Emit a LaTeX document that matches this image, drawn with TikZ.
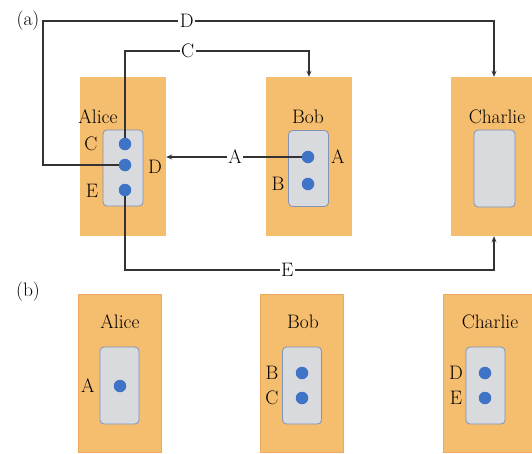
\documentclass[tikz,border=0pt]{standalone}
\usetikzlibrary{arrows.meta}
\definecolor{boxorange}{HTML}{F5BD6E}
\definecolor{boxedge}{HTML}{EFA85E}
\definecolor{innergray}{HTML}{D8DADE}
\definecolor{inneredge}{HTML}{7F93B8}
\definecolor{dotblue}{HTML}{3F73C6}
\definecolor{linegray}{HTML}{333333}
\tikzset{
  party/.style={rectangle, fill=boxorange, inner sep=0pt, minimum width=86pt, minimum height=159pt},
  partyb/.style={party, draw=boxedge, line width=0.6pt, minimum width=83pt, minimum height=158pt},
  mem/.style={rectangle, rounded corners=4pt, fill=innergray, draw=inneredge, line width=0.8pt, inner sep=0pt, minimum width=40pt, minimum height=76pt},
  qdot/.style={circle, fill=dotblue, inner sep=0pt, minimum size=12.5pt},
  txt/.style={font=\fontsize{19.5}{22}\selectfont, inner sep=0pt, text=black},
  conn/.style={draw=linegray, line width=1.2pt},
  arr/.style={conn, -{Stealth[length=6pt,width=5pt]}},
  lbl/.style={txt, fill=white, inner sep=1.5pt}
}
\begin{document}
\begin{tikzpicture}[x=1pt,y=-1pt]
\useasboundingbox (0,0) rectangle (532,453);
\clip (0,0) rectangle (532,453);
% ---------- (a) ----------
\node[txt] (lab-a) at (28,21) {(a)};
\node[party] (aliceA) at (123,156.5) {};
\node[party] (bobA) at (309,156.5) {};
\node[party] (charlieA) at (494,156.5) {};
\node[txt] (nAliceA) at (98,117) {Alice};
\node[txt] (nBobA) at (308,117) {Bob};
\node[txt] (nCharlieA) at (497,117) {Charlie};
\node[mem] (memAliceA) at (123,168) {};
\node[mem] (memBobA) at (308.5,168.5) {};
\node[mem, minimum width=41pt, minimum height=77pt] (memCharlieA) at (494.5,168.5) {};
\node[qdot] (aC) at (125,144) {};
\node[qdot] (aD) at (125,165) {};
\node[qdot] (aE) at (125,190) {};
\node[qdot] (bA) at (308,157) {};
\node[qdot] (bB) at (308,184) {};
\node[txt] (tC) at (91,144) {C};
\node[txt] (tD) at (155,167) {D};
\node[txt] (tE) at (92,191) {E};
\node[txt] (tA) at (338,157) {A};
\node[txt] (tB) at (278,184) {B};
% connectors
\coordinate (dL) at (43,21);
\coordinate (dR) at (494,21);
\coordinate (cL) at (125,51);
\coordinate (cR) at (309,51);
\coordinate (eL) at (125,270);
\coordinate (eR) at (494,270);
\draw[arr] (aD) -| (dL) -- node[lbl,pos=0.319]{D} (dR) -- (charlieA.north);
\draw[arr] (aC) -- (cL) -- node[lbl,pos=0.34]{C} (cR) -- (bobA.north);
\draw[arr] (bA) -- node[lbl,pos=0.49]{A} (bA -| aliceA.east);
\draw[arr] (aE) -- (eL) -- node[lbl,pos=0.44]{E} (eR) -- (charlieA.south);
% ---------- (b) ----------
\node[txt] (lab-b) at (28,292) {(b)};
\node[partyb] (aliceB) at (119.5,373) {};
\node[partyb] (bobB) at (301.5,373) {};
\node[partyb, minimum width=95pt] (charlieB) at (490.5,373) {};
\node[txt] (nAliceB) at (120,322) {Alice};
\node[txt] (nBobB) at (303,322) {Bob};
\node[txt] (nCharlieB) at (490,322) {Charlie};
\node[mem, minimum width=39pt, minimum height=77pt] (memAliceB) at (119.5,385.5) {};
\node[mem, minimum width=39pt, minimum height=77pt] (memBobB) at (302,385.5) {};
\node[mem, minimum width=39pt, minimum height=77pt] (memCharlieB) at (485.5,385.5) {};
\node[qdot] (dA2) at (120,386) {};
\node[qdot] (dB2) at (302,373) {};
\node[qdot] (dC2) at (302,398) {};
\node[qdot] (dD2) at (485,373) {};
\node[qdot] (dE2) at (485,398) {};
\node[txt] (uA) at (88,386) {A};
\node[txt] (uB) at (272,373) {B};
\node[txt] (uC) at (272,398) {C};
\node[txt] (uD) at (456,373) {D};
\node[txt] (uE) at (456,398) {E};
\end{tikzpicture}
\end{document}
